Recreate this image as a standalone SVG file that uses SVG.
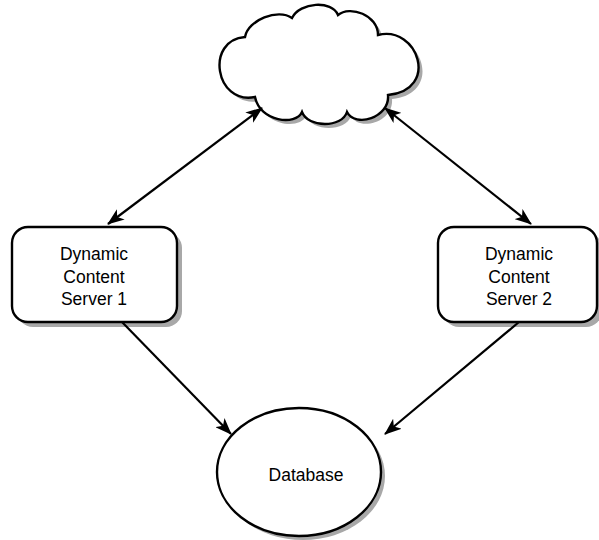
<svg xmlns="http://www.w3.org/2000/svg" width="599" height="540" viewBox="0 0 599 540">
<style>
.sh{fill:#a8a8a8;stroke:none}
.nd{fill:#fff;stroke:#000;stroke-width:2.4}
.lbl{font-family:"Liberation Sans",Arial,sans-serif;font-size:17.5px;fill:#000;text-anchor:middle}
.cn{fill:none;stroke:#000;stroke-width:2.2}
</style>
<defs>
<marker id="ah" markerUnits="userSpaceOnUse" markerWidth="17" markerHeight="13" refX="16" refY="6.5" orient="auto-start-reverse" viewBox="0 0 17 13">
<path d="M0,0 L17,6.5 L0,13 L4.5,6.5 z" fill="#000"/>
</marker>
<path id="cloudp" d="M245,37 C248,20 278,8 292,18 C300,2 332,0 338,15 C350,5 378,15 378,35 C418,25 440,90 388,95 C390,118 355,128 347,112 C342,128 308,128 302,112 C296,126 260,122 255,97 C215,105 205,40 245,37 Z"/>
</defs>
<g id="cloud">
<use href="#cloudp" class="sh" transform="translate(4,4)"/>
<use href="#cloudp" class="nd"/>
</g>
<g id="server1">
<rect x="17" y="232" width="165" height="95" rx="16" class="sh"/>
<rect x="12" y="227" width="165" height="95" rx="16" class="nd"/>
<text class="lbl" x="94" y="260">Dynamic</text>
<text class="lbl" x="94" y="283">Content</text>
<text class="lbl" x="94" y="305">Server 1</text>
</g>
<g id="server2">
<rect x="443" y="232" width="159" height="95" rx="16" class="sh"/>
<rect x="438" y="227" width="159" height="95" rx="16" class="nd"/>
<text class="lbl" x="519" y="260">Dynamic</text>
<text class="lbl" x="519" y="283">Content</text>
<text class="lbl" x="519" y="305">Server 2</text>
</g>
<g id="database">
<ellipse cx="303" cy="476" rx="82" ry="64" class="sh"/>
<ellipse cx="299" cy="472" rx="82" ry="64" class="nd"/>
<text class="lbl" x="306" y="481">Database</text>
</g>
<g id="connectors">
<line class="cn" x1="262" y1="108" x2="108" y2="224" marker-start="url(#ah)" marker-end="url(#ah)"/>
<line class="cn" x1="385" y1="108" x2="531" y2="224" marker-start="url(#ah)" marker-end="url(#ah)"/>
<line class="cn" x1="122" y1="322" x2="231" y2="434" marker-end="url(#ah)"/>
<line class="cn" x1="519" y1="322" x2="385" y2="434" marker-end="url(#ah)"/>
</g>
</svg>
